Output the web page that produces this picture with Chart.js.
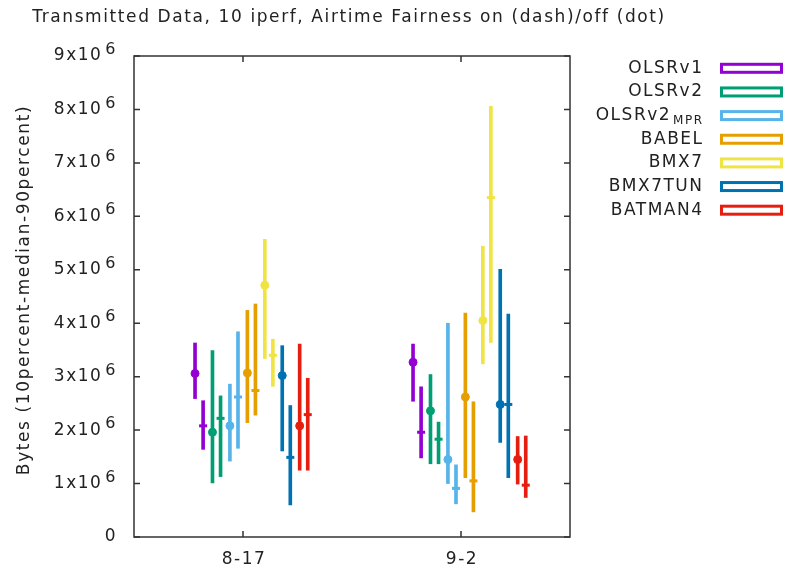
<!DOCTYPE html>
<html>
<head>
<meta charset="utf-8">
<script src="https://cdn.jsdelivr.net/npm/chart.js@4.4.1/dist/chart.umd.min.js"></script>
<style>
  html, body { margin: 0; padding: 0; background: #fff; }
  canvas { display: block; }
</style>
</head>
<body>
<canvas id="chart" width="786" height="574"></canvas>
<script>
const categories = ['8-17', '9-2'];
const protocols = ['OLSRv1', 'OLSRv2', 'OLSRv2_MPR', 'BABEL', 'BMX7', 'BMX7TUN', 'BATMAN4'];
const colors = ['#9400d3', '#009e73', '#56b4e9', '#e69f00', '#f0e442', '#0072b2', '#e51e10'];
const yTicks = [0, 1, 2, 3, 4, 5, 6, 7, 8, 9];

// values in 10^6 bytes, one row per category, one column per protocol
// airtime fairness off (dot)
const offLow    = [[2.59, 1.01, 1.42, 2.14, 3.34, 1.61, 1.25], [2.54, 1.37, 1.00, 1.11, 3.24, 1.77, 0.99]];
const offMedian = [[3.06, 1.96, 2.08, 3.07, 4.71, 3.02, 2.08], [3.27, 2.36, 1.45, 2.62, 4.05, 2.48, 1.45]];
const offHigh   = [[3.63, 3.49, 2.86, 4.24, 5.57, 3.58, 3.61], [3.61, 3.04, 4.00, 4.19, 5.44, 5.01, 1.88]];
// airtime fairness on (dash)
const onLow     = [[1.64, 1.13, 1.66, 2.28, 2.82, 0.60, 1.25], [1.48, 1.37, 0.62, 0.47, 3.64, 1.11, 0.74]];
const onMedian  = [[2.08, 2.22, 2.62, 2.74, 3.40, 1.49, 2.29], [1.96, 1.83, 0.91, 1.05, 6.35, 2.48, 0.97]];
const onHigh    = [[2.55, 2.64, 3.84, 4.36, 3.70, 2.46, 2.97], [2.81, 2.15, 1.35, 2.53, 8.06, 4.17, 1.89]];

// horizontal placement of each protocol around its category
const offsets = [-0.22, -0.14, -0.06, 0.02, 0.10, 0.18, 0.26];
const dashShift = 0.037;

const FONT = "'DejaVu Sans', sans-serif";
const TXT = '#222';
const SPACING = '1.5px';

const datasets = [];
protocols.forEach((p, i) => {
    [['off', offLow, offMedian, offHigh, 0], ['on', onLow, onMedian, onHigh, dashShift]].forEach(([mode, lo, med, hi, shift]) => {
        const xs = categories.map((c, k) => k + offsets[i] + shift);
        datasets.push({
            type: 'bar',
            label: p + ' ' + mode,
            data: xs.map((x, k) => ({ x: x, y: [lo[k][i] * 1e6, hi[k][i] * 1e6] })),
            backgroundColor: colors[i],
            barThickness: 3,
            grouped: false,
            order: 1
        });
        datasets.push({
            type: 'scatter',
            label: p + ' ' + mode + ' median',
            data: xs.map((x, k) => ({ x: x, y: med[k][i] * 1e6 })),
            pointStyle: mode === 'off' ? 'circle' : 'line',
            pointRadius: 4,
            backgroundColor: colors[i],
            borderColor: colors[i],
            borderWidth: mode === 'off' ? 1 : 3,
            order: 0
        });
    });
});

// frame, inward ticks, tick labels, title, axis title and legend
const decorations = {
    id: 'decorations',
    afterDraw(chart) {
        const { ctx, chartArea: a, scales: { x, y } } = chart;
        ctx.save();
        ctx.strokeStyle = '#333';
        ctx.lineWidth = 1.5;
        ctx.strokeRect(a.left, a.top, a.right - a.left, a.bottom - a.top);
        ctx.beginPath();
        yTicks.forEach(v => {
            const py = y.getPixelForValue(v * 1e6);
            ctx.moveTo(a.left, py); ctx.lineTo(a.left + 6, py);
            ctx.moveTo(a.right, py); ctx.lineTo(a.right - 6, py);
        });
        categories.forEach((c, k) => {
            const px = x.getPixelForValue(k);
            ctx.moveTo(px, a.bottom); ctx.lineTo(px, a.bottom - 6);
            ctx.moveTo(px, a.top); ctx.lineTo(px, a.top + 6);
        });
        ctx.stroke();

        ctx.fillStyle = TXT;
        ctx.letterSpacing = SPACING;
        ctx.textBaseline = 'middle';
        ctx.textAlign = 'right';
        yTicks.forEach(v => {
            const py = y.getPixelForValue(v * 1e6);
            ctx.font = '17px ' + FONT;
            if (v === 0) {
                ctx.fillText('0', 117, py);
                return;
            }
            ctx.font = '16px ' + FONT;
            ctx.fillText('6', 117, py - 6);
            const w = ctx.measureText('6').width;
            ctx.font = '17px ' + FONT;
            ctx.fillText(v + 'x10', 117 - w - 3, py);
        });

        ctx.textAlign = 'center';
        ctx.font = '17px ' + FONT;
        categories.forEach((c, k) => {
            ctx.fillText(c, x.getPixelForValue(k) + 1, 560);
        });

        ctx.letterSpacing = '1.6px';
        ctx.fillText('Transmitted Data, 10 iperf, Airtime Fairness on (dash)/off (dot)', 349, 18);

        ctx.save();
        ctx.translate(25, 290);
        ctx.rotate(-Math.PI / 2);
        ctx.fillText('Bytes (10percent-median-90percent)', 0, 0);
        ctx.restore();

        ctx.letterSpacing = SPACING;
        ctx.textAlign = 'right';
        protocols.forEach((p, i) => {
            const cy = 68.3 + i * 23.65;
            const [name, sub] = p.split('_');
            let right = 703.5;
            if (sub) {
                ctx.font = '12px ' + FONT;
                ctx.fillText(sub, right, cy + 5);
                right -= ctx.measureText(sub).width + 2;
            }
            ctx.font = '17px ' + FONT;
            ctx.fillText(name, right, cy);
            ctx.strokeStyle = colors[i];
            ctx.lineWidth = 3;
            ctx.strokeRect(721.5, cy - 4, 60, 8);
        });
        ctx.restore();
    }
};

new Chart(document.getElementById('chart'), {
    type: 'bar',
    data: { datasets: datasets },
    options: {
        responsive: false,
        animation: false,
        devicePixelRatio: 1,
        layout: { padding: { left: 0, right: 216, top: 56, bottom: 0 } },
        plugins: {
            legend: { display: false },
            tooltip: { enabled: false }
        },
        scales: {
            x: {
                type: 'linear',
                min: -0.5,
                max: 1.5,
                offset: false,
                grid: { display: false, drawTicks: false },
                border: { display: false },
                afterBuildTicks: scale => { scale.ticks = categories.map((c, k) => ({ value: k })); },
                afterFit: scale => { scale.height = 37; },
                ticks: { display: false }
            },
            y: {
                min: 0,
                max: 9e6,
                grid: { display: false, drawTicks: false },
                border: { display: false },
                afterFit: scale => { scale.width = 134; },
                ticks: { display: false, stepSize: 1e6 }
            }
        }
    },
    plugins: [decorations]
});
</script>
</body>
</html>
